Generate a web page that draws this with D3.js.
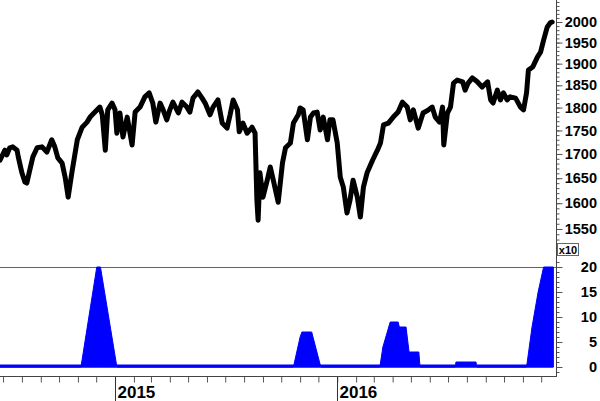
<!DOCTYPE html>
<html><head><meta charset="utf-8">
<script src="https://cdn.jsdelivr.net/npm/d3@7"></script>
<style>body{margin:0;background:#fff}svg{display:block}</style>
</head><body><svg id="c" width="600" height="401"></svg>
<script>
const priceDates = [
"2014-06-26","2014-07-04","2014-07-07","2014-07-12","2014-07-17","2014-07-24","2014-07-26","2014-08-01","2014-08-06","2014-08-09",
"2014-08-14","2014-08-19","2014-08-26","2014-09-03","2014-09-11","2014-09-19","2014-09-24","2014-09-29","2014-10-06","2014-10-11",
"2014-10-16","2014-10-22","2014-10-31","2014-11-08","2014-11-16","2014-11-21","2014-11-29","2014-12-07","2014-12-11","2014-12-16",
"2014-12-20","2014-12-27","2015-01-01","2015-01-04","2015-01-09","2015-01-14","2015-01-21","2015-01-29","2015-02-03","2015-02-11",
"2015-02-19","2015-02-26","2015-03-04","2015-03-09","2015-03-16","2015-03-21","2015-03-27","2015-04-01","2015-04-06","2015-04-15",
"2015-04-21","2015-04-29","2015-05-04","2015-05-09","2015-05-17","2015-05-24","2015-05-29","2015-06-06","2015-06-11","2015-06-19",
"2015-06-26","2015-07-04","2015-07-09","2015-07-14","2015-07-21","2015-07-24","2015-07-30","2015-08-06","2015-08-14","2015-08-19",
"2015-08-22","2015-08-24","2015-08-27","2015-09-01","2015-09-08","2015-09-13","2015-09-18","2015-09-26","2015-10-03","2015-10-08",
"2015-10-16","2015-10-21","2015-10-29","2015-11-01","2015-11-06","2015-11-13","2015-11-18","2015-11-23","2015-11-29","2015-12-04",
"2015-12-09","2015-12-16","2015-12-20","2015-12-25","2016-01-01","2016-01-06","2016-01-11","2016-01-17","2016-01-22","2016-01-27",
"2016-02-03","2016-02-08","2016-02-13","2016-02-19","2016-02-28","2016-03-07","2016-03-12","2016-03-17","2016-03-25","2016-04-02",
"2016-04-10","2016-04-17","2016-04-25","2016-04-30","2016-05-05","2016-05-13","2016-05-21","2016-05-30","2016-06-05","2016-06-10",
"2016-06-17","2016-06-22","2016-06-24","2016-06-30","2016-07-05","2016-07-10","2016-07-16","2016-07-25","2016-07-29","2016-08-03",
"2016-08-10","2016-08-18","2016-08-26","2016-09-04","2016-09-09","2016-09-13","2016-09-20","2016-09-25","2016-09-30","2016-10-06",
"2016-10-11","2016-10-20","2016-10-28","2016-11-02","2016-11-07","2016-11-10","2016-11-17","2016-11-25","2016-11-30","2016-12-05",
"2016-12-11","2016-12-16","2016-12-19"];
const priceValues = [
1687,1708,1698,1713,1715,1708,1694,1661,1642,1640,
1667,1694,1713,1715,1704,1730,1715,1692,1681,1652,
1612,1661,1730,1757,1768,1779,1790,1801,1784,1708,
1795,1810,1795,1744,1788,1736,1779,1719,1790,1801,
1824,1833,1810,1768,1810,1795,1773,1795,1812,1788,
1812,1801,1790,1821,1835,1821,1810,1784,1801,1817,
1766,1755,1784,1817,1795,1747,1766,1744,1757,1744,
1606,1567,1661,1612,1646,1673,1646,1602,1681,1713,
1723,1766,1784,1799,1795,1730,1779,1788,1790,1751,
1779,1730,1773,1773,1723,1652,1632,1581,1606,1646,
1612,1573,1632,1661,1687,1708,1723,1762,1766,1779,
1790,1812,1801,1773,1795,1755,1788,1795,1801,1779,
1768,1801,1719,1788,1801,1855,1862,1858,1839,1855,
1867,1858,1846,1858,1817,1810,1839,1817,1833,1817,
1824,1821,1801,1795,1833,1885,1892,1916,1927,1956,
1988,1998,2000];

const signalDates = [
"2014-06-26","2014-11-06","2014-12-02","2014-12-08","2015-01-04",
"2015-10-21","2015-11-01","2015-11-04","2015-11-20","2015-12-05",
"2016-03-11","2016-03-16","2016-03-28","2016-04-10","2016-04-12","2016-04-23","2016-04-28","2016-05-14","2016-05-16",
"2016-07-13","2016-07-14","2016-08-16","2016-08-17",
"2016-11-07","2016-11-16","2016-11-26","2016-12-05","2016-12-21"];
const signalValues = [
0,0,20,20,0,
0,6,7,7,0,
0,4,9,9,8,8,3,3,0,
0,1,1,0,
0,8,15,20,20];

const priceMajorTicks = [1550,1600,1650,1700,1750,1800,1850,1900,1950,2000];
const signalMajorTicks = [0,5,10,15,20];
const yearTickDates = ["2015-01-01","2016-01-01"];
const yearLabels = ["2015","2016"];
const signalLimit = 20;
const scaleLabel = "x10";

const parse = d3.timeParse("%Y-%m-%d");
const svg = d3.select("#c");
const axisX = 556.5;
const font = "'Liberation Sans', Arial, sans-serif";

const x = d3.scaleTime().domain([parse("2014-06-26"), parse("2016-12-27")]).range([0, 557]);
const yP = d3.scaleLog().domain([1550, 2000]).range([229, 22]);
const yS = d3.scaleLinear().domain([0, 20]).range([367, 267]);

const price = priceDates.map((d, i) => ({date: parse(d), v: priceValues[i]}));
const signal = signalDates.map((d, i) => ({date: parse(d), v: signalValues[i]}));

// red limit line
svg.append("line").attr("x1", 0).attr("x2", axisX).attr("y1", yS(signalLimit) + 0.5).attr("y2", yS(signalLimit) + 0.5)
  .attr("stroke", "#ff2020").attr("stroke-width", 1);

// signal area
svg.append("path").datum(signal)
  .attr("d", d3.area().x(d => x(d.date)).y0(yS(0)).y1(d => yS(d.v)))
  .attr("fill", "#0000ff").attr("stroke", "#0000ff").attr("stroke-width", 1).attr("stroke-linejoin", "round");
svg.append("line").attr("x1", 0).attr("x2", x(signal[signal.length - 1].date))
  .attr("y1", yS(0) - 1).attr("y2", yS(0) - 1).attr("stroke", "#0000ff").attr("stroke-width", 3);

// price line
svg.append("path").datum(price)
  .attr("d", d3.line().x(d => x(d.date)).y(d => yP(d.v)))
  .attr("fill", "none").attr("stroke", "#000").attr("stroke-width", 5)
  .attr("stroke-linejoin", "round").attr("stroke-linecap", "round");

// right axes
const priceMinor = d3.range(1530, 2051, 10);
const gPm = svg.append("g").attr("transform", `translate(${axisX},0)`)
  .call(d3.axisRight(yP).tickValues(priceMinor).tickSize(3).tickSizeOuter(0).tickFormat(""));
const gPM = svg.append("g").attr("transform", `translate(${axisX},0)`)
  .call(d3.axisRight(yP).tickValues(priceMajorTicks).tickSize(6).tickSizeOuter(0).tickFormat(d3.format("d")));
const sigMinor = d3.range(-1, 22, 1);
const gSm = svg.append("g").attr("transform", `translate(${axisX},0)`)
  .call(d3.axisRight(yS).tickValues(sigMinor).tickSize(3).tickSizeOuter(0).tickFormat(""));
const gSM = svg.append("g").attr("transform", `translate(${axisX},0)`)
  .call(d3.axisRight(yS).tickValues(signalMajorTicks).tickSize(6).tickSizeOuter(0).tickFormat(d3.format("d")));
[gPm, gPM, gSm, gSM].forEach(g => {
  g.select(".domain").remove();
  g.selectAll(".tick line").attr("stroke", "#555");
  g.selectAll(".tick text").attr("x", 597 - axisX).attr("text-anchor", "end")
    .attr("font-family", font).attr("font-size", 14.5).attr("font-weight", "bold").attr("fill", "#000");
});

// bottom axis
const monthTicks = d3.timeMonth.range(parse("2014-07-01"), parse("2017-01-01"));
const gX = svg.append("g").attr("transform", "translate(0,376.5)")
  .call(d3.axisBottom(x).tickValues(monthTicks).tickSize(6).tickSizeOuter(0).tickFormat(""));
gX.select(".domain").remove();
gX.selectAll(".tick line").attr("stroke", "#555");

const yearG = svg.append("g").selectAll("g").data(yearTickDates).join("g")
  .attr("transform", d => `translate(${Math.round(x(parse(d))) + 0.5},0)`);
yearG.append("line").attr("y1", 376).attr("y2", 401).attr("stroke", "#333");
yearG.append("text").attr("x", 2).attr("y", 398).text((d, i) => yearLabels[i])
  .attr("font-family", font).attr("font-size", 17).attr("font-weight", "bold").attr("fill", "#000");

// axis frame lines
svg.append("line").attr("x1", axisX).attr("x2", axisX).attr("y1", 0).attr("y2", 377).attr("stroke", "#444");
svg.append("line").attr("x1", 0).attr("x2", axisX + 0.5).attr("y1", 376.5).attr("y2", 376.5).attr("stroke", "#444");

// x10 box
svg.append("rect").attr("x", 557.5).attr("y", 243.5).attr("width", 21).attr("height", 12)
  .attr("fill", "#fff").attr("stroke", "#666");
svg.append("text").attr("x", 568).attr("y", 253.5).attr("text-anchor", "middle").text(scaleLabel)
  .attr("font-family", font).attr("font-size", 11).attr("font-weight", "bold").attr("fill", "#000");
</script></body></html>
